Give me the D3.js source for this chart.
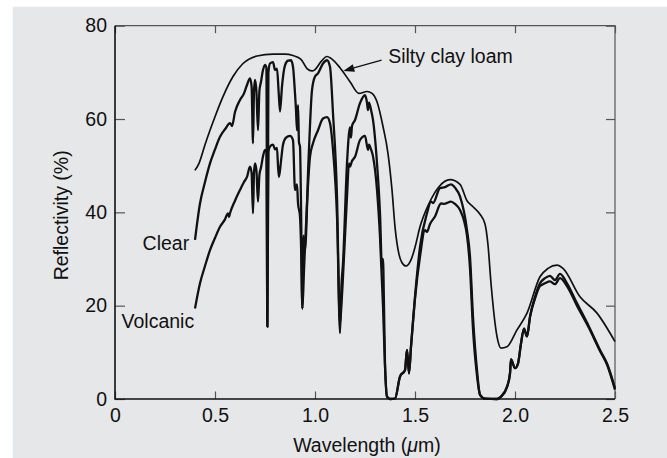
<!DOCTYPE html>
<html>
<head>
<meta charset="utf-8">
<script src="https://cdn.jsdelivr.net/npm/d3@7"></script>
<style>
  body { margin: 0; background: #fff; }
  svg { display: block; font-family: "Liberation Sans", Arial, Helvetica, sans-serif; }
  .axis text { font-size: 19.5px; fill: #111; }
  .axis .domain { display: none; }
  .axis line { stroke: #555; stroke-width: 1.2; }
  .label { font-size: 19.5px; fill: #111; }
</style>
</head>
<body>
<svg id="chart" width="667" height="458"></svg>
<script>
// reflectance spectra, [wavelength (um), reflectivity (%)]
const siltyClayLoam = [
  [0.40, 49.0], [0.42, 50.5], [0.45, 54.5], [0.475, 57.6], [0.50, 60.5],
  [0.54, 64.8], [0.59, 69.1], [0.64, 71.9], [0.71, 73.5], [0.79, 73.9],
  [0.85, 73.9], [0.89, 73.6], [0.93, 72.8], [0.96, 70.8], [0.985, 70.3],
  [1.00, 70.6], [1.03, 72.3], [1.06, 73.4], [1.08, 73.0], [1.125, 71.0],
  [1.175, 68.0], [1.22, 65.5], [1.26, 65.9], [1.285, 65.5], [1.31, 63.7],
  [1.34, 58.4], [1.365, 52.6], [1.385, 44.8], [1.40, 36.9], [1.42, 31.0],
  [1.435, 29.2], [1.455, 28.5], [1.48, 29.8], [1.50, 32.5], [1.525, 36.9],
  [1.57, 41.9], [1.62, 45.5], [1.675, 47.0], [1.725, 46.0], [1.76, 42.5],
  [1.79, 41.2], [1.825, 39.6], [1.85, 37.5], [1.865, 33.0], [1.88, 24.8],
  [1.91, 13.4], [1.93, 10.9], [1.96, 11.2], [2.01, 14.8], [2.06, 18.4],
  [2.125, 26.2], [2.165, 28.0], [2.21, 28.7], [2.24, 28.0], [2.325, 21.9],
  [2.41, 18.4], [2.50, 12.3]
];

const clear = [
  [0.40, 34.1], [0.425, 41.9], [0.45, 46.5], [0.475, 50.5], [0.50, 53.5],
  [0.525, 56.2], [0.55, 57.8], [0.575, 59.1], [0.585, 58.5], [0.60, 61.5],
  [0.625, 64.1], [0.645, 65.5], [0.66, 67.3], [0.675, 68.7], [0.683, 67.0],
  [0.69, 54.8], [0.695, 66.0], [0.70, 68.4], [0.707, 66.0], [0.715, 57.6],
  [0.722, 66.0], [0.73, 68.0], [0.74, 70.5], [0.75, 71.6], [0.757, 71.0],
  [0.762, 15.5], [0.767, 70.0], [0.775, 71.9], [0.79, 72.2], [0.80, 70.5],
  [0.81, 70.8], [0.818, 66.0], [0.825, 61.6], [0.835, 67.0], [0.85, 71.5],
  [0.865, 72.5], [0.88, 72.6], [0.89, 71.2], [0.90, 65.5], [0.905, 62.0],
  [0.91, 57.6], [0.915, 63.0], [0.92, 55.0], [0.925, 54.1], [0.93, 41.9],
  [0.937, 19.4], [0.943, 35.0], [0.95, 31.9], [0.967, 50.5], [0.985, 66.2],
  [1.00, 69.1], [1.015, 69.8], [1.04, 71.9], [1.06, 72.6], [1.075, 71.2],
  [1.09, 61.2], [1.11, 43.4], [1.125, 14.1], [1.132, 24.0], [1.14, 29.1],
  [1.16, 50.5], [1.17, 56.9], [1.175, 58.2], [1.18, 56.0], [1.185, 58.5],
  [1.20, 59.8], [1.225, 63.4], [1.25, 65.1], [1.26, 63.5], [1.265, 61.9],
  [1.27, 63.5], [1.28, 62.0], [1.29, 59.8], [1.31, 50.5], [1.325, 39.8],
  [1.335, 28.0], [1.34, 30.0], [1.345, 20.0], [1.35, 7.6], [1.36, 0.5],
  [1.375, 0.0], [1.40, 0.1], [1.425, 4.8], [1.45, 6.2], [1.46, 10.5],
  [1.47, 5.5], [1.48, 11.2], [1.50, 21.9], [1.525, 32.6], [1.56, 39.8],
  [1.58, 42.3], [1.59, 42.0], [1.625, 45.2], [1.65, 45.4], [1.68, 46.0],
  [1.70, 45.3], [1.725, 43.4], [1.76, 36.2], [1.775, 30.5], [1.79, 17.6],
  [1.81, 6.2], [1.825, 0.9], [1.85, 0.1], [1.91, 0.0], [1.93, 0.5],
  [1.96, 2.6], [1.975, 5.5], [1.98, 8.5], [2.00, 6.6], [2.015, 7.6],
  [2.03, 11.9], [2.045, 15.1], [2.06, 13.4], [2.075, 17.6], [2.10, 21.9],
  [2.125, 24.8], [2.15, 25.9], [2.175, 26.4], [2.20, 25.5], [2.225, 26.8],
  [2.26, 24.8], [2.31, 20.5], [2.37, 15.5], [2.425, 10.5], [2.46, 7.6],
  [2.50, 2.3]
];

const volcanic = [
  [0.40, 19.4], [0.425, 24.8], [0.45, 28.5], [0.475, 31.9], [0.50, 34.5],
  [0.525, 36.9], [0.55, 38.5], [0.565, 39.8], [0.57, 39.0], [0.575, 39.8],
  [0.60, 42.5], [0.625, 44.8], [0.645, 46.5], [0.66, 47.6], [0.675, 49.8],
  [0.683, 48.5], [0.69, 39.8], [0.695, 48.5], [0.70, 50.5], [0.707, 49.0],
  [0.715, 42.3], [0.722, 48.0], [0.73, 49.6], [0.74, 52.0], [0.75, 53.4],
  [0.757, 53.0], [0.762, 15.5], [0.767, 53.0], [0.775, 54.1], [0.79, 54.5],
  [0.80, 53.5], [0.81, 53.8], [0.815, 50.0], [0.82, 47.6], [0.83, 51.0],
  [0.84, 54.5], [0.855, 56.0], [0.875, 56.4], [0.89, 55.5], [0.90, 44.8],
  [0.91, 46.0], [0.915, 42.0], [0.925, 39.1], [0.93, 33.4], [0.937, 19.4],
  [0.945, 27.6], [0.96, 41.9], [0.975, 51.9], [0.99, 54.8], [1.015, 57.6],
  [1.04, 60.1], [1.06, 60.4], [1.075, 59.1], [1.09, 53.4], [1.11, 39.1],
  [1.125, 16.2], [1.132, 20.0], [1.14, 26.2], [1.16, 43.4], [1.17, 50.5],
  [1.175, 49.8], [1.185, 51.0], [1.20, 51.9], [1.225, 55.5], [1.25, 56.4],
  [1.265, 53.4], [1.27, 54.5], [1.28, 53.5], [1.29, 52.0], [1.31, 44.8],
  [1.325, 34.8], [1.34, 20.0], [1.35, 7.0], [1.36, 0.5], [1.375, 0.0],
  [1.40, 0.1], [1.425, 4.8], [1.45, 6.2], [1.46, 10.5], [1.47, 5.5],
  [1.48, 11.2], [1.50, 21.5], [1.525, 30.5], [1.55, 36.2], [1.56, 35.8],
  [1.575, 37.5], [1.60, 39.1], [1.63, 41.9], [1.645, 41.8], [1.68, 42.3],
  [1.70, 41.8], [1.725, 40.5], [1.76, 35.0], [1.775, 28.0], [1.79, 15.0],
  [1.81, 5.0], [1.825, 0.9], [1.85, 0.1], [1.91, 0.0], [1.93, 0.5],
  [1.96, 2.6], [1.975, 5.5], [1.98, 8.5], [2.00, 6.6], [2.015, 7.6],
  [2.03, 11.9], [2.045, 15.1], [2.06, 13.4], [2.075, 17.6], [2.10, 21.5],
  [2.125, 24.2], [2.15, 24.8], [2.175, 25.2], [2.20, 24.6], [2.225, 25.9],
  [2.26, 24.2], [2.31, 20.0], [2.37, 15.2], [2.425, 10.3], [2.46, 7.4],
  [2.50, 2.0]
];

const xTicks = [0, 0.5, 1.0, 1.5, 2.0, 2.5];
const xTickLabels = ["0", "0.5", "1.0", "1.5", "2.0", "2.5"];
const yTicks = [0, 20, 40, 60, 80];
const yTickLabels = ["0", "20", "40", "60", "80"];

const svg = d3.select("#chart");
const plotLeft = 115, plotRight = 615, plotTop = 25.7, plotBottom = 399;

const x = d3.scaleLinear().domain([0, 2.5]).range([plotLeft, plotRight]);
const y = d3.scaleLinear().domain([0, 80]).range([plotBottom, plotTop]);

// grey panel
svg.append("rect").attr("x", 12.7).attr("y", 6.7)
    .attr("width", 667 - 12.7).attr("height", 458 - 6.7)
    .attr("fill", "#e6e7e8");

// inner ticks on all four sides
svg.append("g").attr("class", "axis")
    .attr("transform", `translate(0,${plotBottom})`)
    .call(d3.axisBottom(x).tickValues(xTicks).tickSizeInner(-7.5).tickSizeOuter(0)
        .tickPadding(9).tickFormat((d, i) => xTickLabels[i]));
svg.append("g").attr("class", "axis")
    .attr("transform", `translate(${plotLeft},0)`)
    .call(d3.axisLeft(y).tickValues(yTicks).tickSizeInner(-10).tickSizeOuter(0)
        .tickPadding(8).tickFormat((d, i) => yTickLabels[i]));
svg.append("g").attr("class", "axis")
    .attr("transform", `translate(0,${plotTop})`)
    .call(d3.axisTop(x).tickValues(xTicks).tickSizeInner(-7.5).tickSizeOuter(0).tickFormat(""));
svg.append("g").attr("class", "axis")
    .attr("transform", `translate(${plotRight},0)`)
    .call(d3.axisRight(y).tickValues(yTicks).tickSizeInner(-9).tickSizeOuter(0).tickFormat(""));

// frame: dark left/bottom, grey top/right
svg.append("path")
    .attr("d", `M${plotLeft},${plotTop}H${plotRight}V${plotBottom}`)
    .attr("fill", "none").attr("stroke", "#555").attr("stroke-width", 1.2);
svg.append("path")
    .attr("d", `M${plotLeft},${plotTop}V${plotBottom}H${plotRight}`)
    .attr("fill", "none").attr("stroke", "#111").attr("stroke-width", 1.6);

const line = d3.line().x(d => x(d[0])).y(d => y(d[1])).curve(d3.curveMonotoneX);

svg.append("path").datum(siltyClayLoam).attr("d", line)
    .attr("fill", "none").attr("stroke", "#111").attr("stroke-width", 1.7);
svg.append("path").datum(clear).attr("d", line)
    .attr("fill", "none").attr("stroke", "#111").attr("stroke-width", 2.3)
    .attr("stroke-linejoin", "round");
svg.append("path").datum(volcanic).attr("d", line)
    .attr("fill", "none").attr("stroke", "#111").attr("stroke-width", 2.3)
    .attr("stroke-linejoin", "round");

// labels
svg.append("text").attr("class", "label")
    .attr("x", x(0.371)).attr("y", 250).attr("text-anchor", "end").text("Clear");
svg.append("text").attr("class", "label")
    .attr("x", x(0.396)).attr("y", 327.7).attr("text-anchor", "end").text("Volcanic");
svg.append("text").attr("class", "label")
    .attr("x", x(1.366)).attr("y", 63.3).text("Silty clay loam");

// arrow to the silty clay loam curve
const tail = [x(1.333), y(72.6)], tip = [x(1.1415), y(70.3)];
const ang = Math.atan2(tip[1] - tail[1], tip[0] - tail[0]);
const headLen = 11, headW = 4;
const base = [tip[0] - headLen * Math.cos(ang), tip[1] - headLen * Math.sin(ang)];
svg.append("line")
    .attr("x1", tail[0]).attr("y1", tail[1]).attr("x2", base[0]).attr("y2", base[1])
    .attr("stroke", "#111").attr("stroke-width", 1.3);
svg.append("path")
    .attr("d", `M${tip[0]},${tip[1]}` +
        `L${base[0] + headW * Math.sin(ang)},${base[1] - headW * Math.cos(ang)}` +
        `L${base[0] - headW * Math.sin(ang)},${base[1] + headW * Math.cos(ang)}Z`)
    .attr("fill", "#111");

// axis titles
const xTitle = svg.append("text").attr("class", "label")
    .attr("x", (plotLeft + plotRight) / 2 + 2).attr("y", 452).attr("text-anchor", "middle");
xTitle.append("tspan").text("Wavelength (");
xTitle.append("tspan").attr("font-style", "italic").text("\u03bc");
xTitle.append("tspan").text("m)");

svg.append("text").attr("class", "label")
    .attr("transform", `translate(68,${(plotTop + plotBottom) / 2 + 3}) rotate(-90)`)
    .attr("text-anchor", "middle").text("Reflectivity (%)");
</script>
</body>
</html>
